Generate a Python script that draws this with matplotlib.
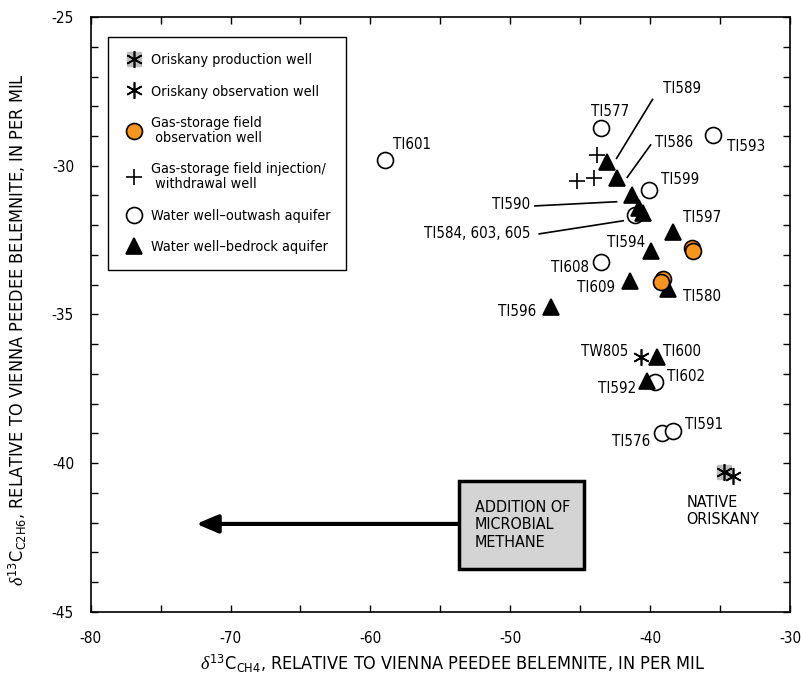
import numpy as np
import matplotlib
matplotlib.use('Agg')
import matplotlib.pyplot as plt
from matplotlib.lines import Line2D
from matplotlib.patches import Rectangle
from matplotlib.legend_handler import HandlerTuple

plt.rcParams['font.family'] = ['DejaVu Sans']
plt.rcParams['font.stretch'] = 'condensed'
plt.rcParams['axes.unicode_minus'] = False
plt.rcParams['mathtext.fontset'] = 'custom'
plt.rcParams['mathtext.rm'] = 'DejaVu Sans:stretch=condensed'
plt.rcParams['mathtext.it'] = 'Liberation Serif:italic'

# ── data (delta13C CH4, delta13C C2H6), per mil ──────────────────────────────
outwash_x = [-58.96, -43.55, -35.50, -40.07, -41.10, -43.52, -39.66, -39.18, -38.35]
outwash_y = [-29.81, -28.74, -28.97, -30.82, -31.66, -33.22, -37.26, -39.00, -38.90]

bedrock_x = [-43.12, -42.40, -41.33, -40.79, -40.54, -38.40, -39.97, -41.45, -38.71,
             -47.12, -39.54, -40.26]
bedrock_y = [-29.86, -30.42, -30.98, -31.43, -31.60, -32.22, -32.86, -33.86, -34.15,
             -34.74, -36.42, -37.24]

gasobs_x = [-37.04, -36.93, -39.11, -39.19]
gasobs_y = [-32.78, -32.86, -33.82, -33.90]

inject_x = [-43.79, -45.22, -44.02]
inject_y = [-29.64, -30.50, -30.42]

oriobs_x = [-40.62, -34.09]
oriobs_y = [-36.42, -40.43]

prod_x = [-34.73]
prod_y = [-40.28]

# labels: text, x, y, horizontal alignment
labels = [
    ('TI601', -58.37, -29.30, 'left'),
    ('TI577', -42.85, -28.16, 'center'),
    ('TI589', -39.10, -27.42, 'left'),
    ('TI586', -39.67, -29.22, 'left'),
    ('TI593', -34.54, -29.34, 'left'),
    ('TI599', -39.19, -30.45, 'left'),
    ('TI590', -48.55, -31.29, 'right'),
    ('TI584, 603, 605', -48.55, -32.29, 'right'),
    ('TI597', -37.68, -31.74, 'left'),
    ('TI594', -40.38, -32.58, 'right'),
    ('TI608', -44.38, -33.42, 'right'),
    ('TI609', -42.50, -34.09, 'right'),
    ('TI580', -37.66, -34.38, 'left'),
    ('TI596', -48.17, -34.90, 'right'),
    ('TW805', -41.57, -36.23, 'right'),
    ('TI600', -39.07, -36.23, 'left'),
    ('TI602', -38.83, -37.08, 'left'),
    ('TI592', -40.97, -37.50, 'right'),
    ('TI576', -40.02, -39.27, 'right'),
    ('TI591', -37.52, -38.71, 'left'),
]
leaders = [
    ((-39.83, -27.77), (-42.40, -29.75)),
    ((-39.97, -29.30), (-41.64, -30.39)),
    ((-48.24, -31.35), (-42.40, -31.21)),
    ((-47.93, -32.29), (-41.93, -31.85)),
]

ORANGE = '#F7941E'
GREY = '#bebebe'
STAR = (6, 2, 0)

fig = plt.figure(figsize=(8.01, 6.83), dpi=100)
ax = fig.add_axes([0.1132, 0.1040, 0.8731, 0.8711])

mk = dict(ls='none', mec='black', mew=1.2)
ax.plot(outwash_x, outwash_y, marker='o', ms=11.5, mfc='white', zorder=3, **mk)
ax.plot(bedrock_x, bedrock_y, marker='^', ms=12, mfc='black', zorder=4, **mk)
ax.plot(gasobs_x, gasobs_y, marker='o', ms=11.5, mfc=ORANGE, zorder=5, **mk)
ax.plot(inject_x, inject_y, marker='+', ms=12, zorder=4, **mk)
ax.plot(oriobs_x, oriobs_y, marker=STAR, ms=12, zorder=4, **mk)
ax.plot(prod_x, prod_y, marker='s', ms=9.5, mfc=GREY, mec=GREY, ls='none', zorder=3)
ax.plot(prod_x, prod_y, marker=STAR, ms=12, zorder=4, **mk)

for t, x, y, ha in labels:
    ax.text(x, y, t, ha=ha, va='center', fontsize=10.8)
for (x0, y0), (x1, y1) in leaders:
    ax.plot([x0, x1], [y0, y1], color='black', lw=1.2, zorder=2)

ax.text(-37.4, -41.07, 'NATIVE\nORISKANY', ha='left', va='top', fontsize=11.5,
        linespacing=1.15)

# microbial methane box and arrow
ax.add_patch(Rectangle((-53.7, -43.55), 9.0, 2.95, facecolor='#d4d4d4',
                       edgecolor='black', lw=2.5, zorder=3))
ax.text(-52.55, -42.07, 'ADDITION OF\nMICROBIAL\nMETHANE', ha='left', va='center',
        fontsize=11.5, linespacing=1.2, zorder=4)
ax.annotate('', xy=(-72.45, -42.04), xytext=(-53.7, -42.04),
            arrowprops=dict(arrowstyle='-|>,head_length=1.3,head_width=0.55',
                            lw=3, color='black', shrinkA=0, shrinkB=0), zorder=2)

ax.set_xlim(-80, -30)
ax.set_ylim(-45, -25)
ax.set_xticks(np.arange(-80, -29, 10))
ax.set_xticks(np.arange(-75, -30, 10), minor=True)
ax.set_yticks(np.arange(-45, -24, 5))
ax.set_yticks(np.arange(-45, -24, 1), minor=True)
ax.tick_params(which='both', direction='in', top=True, right=True, length=5,
               width=1, labelsize=11)
ax.tick_params(axis='x', pad=14)
ax.tick_params(axis='y', pad=12)
for s in ax.spines.values():
    s.set_linewidth(1.2)

ax.set_xlabel(r'$\delta^{13}$C$_{\mathrm{CH4}}$, RELATIVE TO VIENNA PEEDEE BELEMNITE, IN PER MIL',
              fontsize=13)
ax.set_ylabel(r'$\delta^{13}$C$_{\mathrm{C2H6}}$, RELATIVE TO VIENNA PEEDEE BELEMNITE, IN PER MIL',
              fontsize=13)
ax.xaxis.set_label_coords(0.518, -0.068)
ax.yaxis.set_label_coords(-0.088, 0.474)

# legend
h_prod = (Line2D([], [], marker='s', ms=9.5, mfc=GREY, mec=GREY, ls='none'),
          Line2D([], [], marker=STAR, ms=12, **mk))
handles = [
    h_prod,
    Line2D([], [], marker=STAR, ms=12, **mk),
    Line2D([], [], marker='o', ms=11.5, mfc=ORANGE, **mk),
    Line2D([], [], marker='+', ms=12, **mk),
    Line2D([], [], marker='o', ms=11.5, mfc='white', **mk),
    Line2D([], [], marker='^', ms=12, mfc='black', **mk),
]
names = ['Oriskany production well', 'Oriskany observation well',
         'Gas-storage field\n observation well',
         'Gas-storage field injection/\n withdrawal well',
         'Water well\u2013outwash aquifer', 'Water well\u2013bedrock aquifer']
leg = ax.legend(handles, names, loc='upper left', bbox_to_anchor=(0.0252, 0.9659),
                borderaxespad=0, fontsize=10.4, frameon=True, fancybox=False,
                edgecolor='black', framealpha=1, borderpad=1.1, labelspacing=1.2,
                handlelength=1.3, handletextpad=0.55,
                handler_map={tuple: HandlerTuple(ndivide=1, pad=0)})
leg.get_frame().set_linewidth(1.0)
for t in leg.get_texts():
    t.set_linespacing(1.1)

fig.savefig('out.png', dpi=100)
